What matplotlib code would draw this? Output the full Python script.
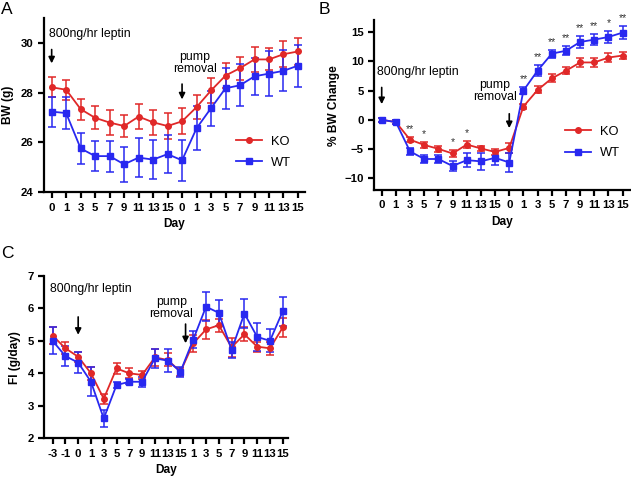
import matplotlib
matplotlib.use("Agg")
import matplotlib.pyplot as plt
from matplotlib.lines import Line2D
import numpy as np

plt.rcParams['font.family'] = ['Liberation Sans', 'DejaVu Sans']

# ---------------- Data ----------------
# Panel A: body weight (g)
days_ab = ["0", "1", "3", "5", "7", "9", "11", "13", "15",
           "0", "1", "3", "5", "7", "9", "11", "13", "15"]
bw_ko = [28.22, 28.12, 27.34, 26.99, 26.80, 26.66, 27.04, 26.81, 26.66,
         26.85, 27.42, 28.09, 28.69, 28.99, 29.34, 29.34, 29.55, 29.66]
bw_ko_err = [0.40, 0.40, 0.42, 0.46, 0.50, 0.43, 0.50, 0.50, 0.54,
             0.53, 0.48, 0.50, 0.49, 0.46, 0.50, 0.44, 0.52, 0.53]
bw_wt = [27.24, 27.18, 25.76, 25.45, 25.45, 25.12, 25.39, 25.31, 25.53,
         25.28, 26.57, 27.38, 28.18, 28.30, 28.66, 28.77, 28.88, 29.09]
bw_wt_err = [0.60, 0.65, 0.62, 0.60, 0.62, 0.70, 0.77, 0.80, 0.76,
             0.82, 0.88, 0.70, 0.82, 0.85, 0.75, 0.90, 0.82, 0.85]

# Panel B: % BW change
pct_ko = [0.0, -0.4, -3.4, -4.3, -4.97, -5.76, -4.23, -4.9, -5.5,
          -4.8, 2.27, 5.1, 7.08, 8.38, 9.8, 9.8, 10.64, 10.98]
pct_ko_err = [0.3, 0.4, 0.4, 0.5, 0.5, 0.6, 0.6, 0.5, 0.5,
              0.8, 0.5, 0.6, 0.7, 0.6, 0.7, 0.7, 0.7, 0.6]
pct_wt = [0.0, -0.4, -5.4, -6.7, -6.7, -7.9, -6.9, -7.1, -6.5,
          -7.3, 5.0, 8.4, 11.3, 11.8, 13.3, 13.7, 14.15, 14.9]
pct_wt_err = [0.3, 0.4, 0.6, 0.7, 0.6, 0.8, 1.2, 1.5, 1.2,
              1.6, 0.6, 0.9, 0.7, 0.8, 1.1, 1.0, 1.0, 1.1]
stars_b = ["", "", "**", "*", "", "*", "*", "", "",
           "", "**", "**", "**", "**", "**", "**", "*", "**"]

# Panel C: food intake (g/day)
days_c = ["-3", "-1", "0", "1", "3", "5", "7", "9", "11", "13", "15",
          "1", "3", "5", "7", "9", "11", "13", "15"]
fi_ko = [5.16, 4.77, 4.51, 4.00, 3.22, 4.15, 4.00, 3.95, 4.49, 4.41, 4.05,
         4.92, 5.35, 5.48, 4.80, 5.20, 4.82, 4.77, 5.41]
fi_ko_err = [0.25, 0.18, 0.15, 0.20, 0.15, 0.18, 0.15, 0.12, 0.25, 0.20, 0.12,
             0.25, 0.30, 0.20, 0.30, 0.22, 0.15, 0.20, 0.30]
fi_wt = [5.00, 4.53, 4.33, 3.74, 2.61, 3.64, 3.74, 3.74, 4.46, 4.39, 4.05,
         5.04, 6.05, 5.86, 4.72, 5.84, 5.12, 5.00, 5.91]
fi_wt_err = [0.42, 0.30, 0.33, 0.45, 0.27, 0.10, 0.08, 0.15, 0.30, 0.35, 0.15,
             0.25, 0.45, 0.40, 0.25, 0.45, 0.42, 0.35, 0.45]

KO_COLOR = "#e02828"
WT_COLOR = "#2828f0"

fig = plt.figure(figsize=(6.31, 4.78), dpi=100)

tick_fs = 8.2
lab_fs = 8.6
ann_fs = 8.8


def style_axes(ax, labels):
    for s in ["top", "right"]:
        ax.spines[s].set_visible(False)
    for s in ["left", "bottom"]:
        ax.spines[s].set_linewidth(1.6)
    ax.set_xticks(np.arange(len(labels)))
    ax.set_xticklabels(labels, fontsize=tick_fs, fontweight="bold")
    ax.tick_params(axis="both", direction="out", width=1.6, length=4.5,
                   labelsize=tick_fs, pad=3)
    for lbl in ax.get_yticklabels():
        lbl.set_fontweight("bold")
    ax.set_xlabel("Day", fontsize=lab_fs, fontweight="bold", labelpad=4)


def plot_series(ax, y, e, color, marker, ms, label):
    x = np.arange(len(y))
    ax.errorbar(x, y, yerr=e, color=color, marker=marker, ms=ms, lw=1.3,
                elinewidth=1.1, capsize=3, capthick=1.1, label=label)


def add_legend(ax, anchor):
    handles = [Line2D([], [], color=KO_COLOR, marker="o", ms=4, lw=1.3),
               Line2D([], [], color=WT_COLOR, marker="s", ms=5, lw=1.3)]
    ax.legend(handles, ["KO", "WT"], loc="center left", bbox_to_anchor=anchor,
              frameon=False, fontsize=ann_fs + 0.5, handlelength=2.0,
              handletextpad=0.7, labelspacing=0.7)


def arrow(ax, x, y0, y1):
    ax.annotate("", xy=(x, y1), xytext=(x, y0),
                arrowprops=dict(arrowstyle="-|>", color="black", lw=1.2,
                                mutation_scale=9))


# ---------------- Panel A ----------------
axA = fig.add_axes([0.0697, 0.598, 0.414, 0.364])
plot_series(axA, bw_ko, bw_ko_err, KO_COLOR, "o", 4, "KO")
plot_series(axA, bw_wt, bw_wt_err, WT_COLOR, "s", 5, "WT")
axA.set_xlim(-0.53, len(days_ab) - 0.5)
axA.set_ylim(24, 31)
axA.set_yticks([24, 26, 28, 30])
style_axes(axA, days_ab)
for lbl in axA.get_yticklabels():
    lbl.set_fontweight("bold")
axA.set_ylabel("BW (g)", fontsize=lab_fs, fontweight="bold", labelpad=5)
axA.text(-0.2, 30.38, "800ng/hr leptin", fontsize=ann_fs, ha="left", va="center")
arrow(axA, 0, 29.85, 29.07)
axA.text(9.9, 29.18, "pump\nremoval", fontsize=ann_fs, ha="center",
         va="center", linespacing=1.0)
arrow(axA, 9, 28.46, 27.62)
add_legend(axA, (0.69, 0.23))

# ---------------- Panel B ----------------
axB = fig.add_axes([0.593, 0.6025, 0.405, 0.355])
plot_series(axB, pct_ko, pct_ko_err, KO_COLOR, "o", 4, "KO")
plot_series(axB, pct_wt, pct_wt_err, WT_COLOR, "s", 5, "WT")
axB.set_xlim(-0.53, len(days_ab) - 0.5)
axB.set_ylim(-12, 17)
axB.set_yticks([-10, -5, 0, 5, 10, 15])
style_axes(axB, days_ab)
for lbl in axB.get_yticklabels():
    lbl.set_fontweight("bold")
axB.set_ylabel("% BW Change", fontsize=lab_fs, fontweight="bold", labelpad=3)
for i, s in enumerate(stars_b):
    if s:
        top = max(pct_ko[i] + pct_ko_err[i], pct_wt[i] + pct_wt_err[i])
        axB.text(i, top + 0.5, s, fontsize=7.5, ha="center", va="bottom",
                 color="#333333")
axB.text(-0.3, 8.2, "800ng/hr leptin", fontsize=ann_fs, ha="left", va="center")
arrow(axB, 0, 6.0, 2.2)
axB.text(8.0, 5.0, "pump\nremoval", fontsize=ann_fs, ha="center",
         va="center", linespacing=1.0)
arrow(axB, 9, 1.5, -1.9)
add_legend(axB, (0.7, 0.28))

# ---------------- Panel C ----------------
axC = fig.add_axes([0.0702, 0.083, 0.387, 0.34])
plot_series(axC, fi_ko, fi_ko_err, KO_COLOR, "o", 4, "KO")
plot_series(axC, fi_wt, fi_wt_err, WT_COLOR, "s", 5, "WT")
axC.set_xlim(-0.65, len(days_c) - 0.55)
axC.set_ylim(2, 7)
axC.set_yticks([2, 3, 4, 5, 6, 7])
style_axes(axC, days_c)
for lbl in axC.get_yticklabels():
    lbl.set_fontweight("bold")
axC.set_ylabel("FI (g/day)", fontsize=lab_fs, fontweight="bold", labelpad=5)
axC.text(-0.2, 6.6, "800ng/hr leptin", fontsize=ann_fs, ha="left", va="center")
arrow(axC, 2, 5.82, 5.1)
axC.text(9.3, 6.02, "pump\nremoval", fontsize=ann_fs, ha="center",
         va="center", linespacing=1.0)
arrow(axC, 10.4, 5.6, 4.84)

# Panel letters
fig.text(0.002, 0.995, "A", fontsize=12.5, ha="left", va="top")
fig.text(0.505, 0.995, "B", fontsize=12.5, ha="left", va="top")
fig.text(0.002, 0.485, "C", fontsize=12.5, ha="left", va="top")

fig.savefig("out.png", dpi=100)
